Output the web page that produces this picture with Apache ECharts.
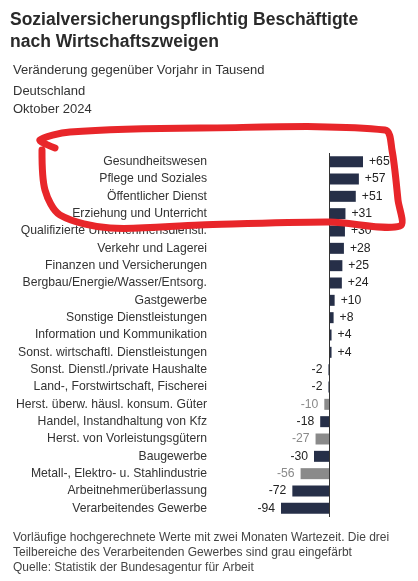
<!DOCTYPE html><html><head><meta charset="utf-8"><script src="https://cdn.jsdelivr.net/npm/echarts@6/dist/echarts.min.js"></script>
<style>html,body{margin:0;padding:0;background:#fff}#c{width:418px;height:581px}</style></head><body><div id="c"></div><script>
const categories=["Gesundheitswesen","Pflege und Soziales","Öffentlicher Dienst","Erziehung und Unterricht","Qualifizierte Unternehmensdienstl.","Verkehr und Lagerei","Finanzen und Versicherungen","Bergbau/Energie/Wasser/Entsorg.","Gastgewerbe","Sonstige Dienstleistungen","Information und Kommunikation","Sonst. wirtschaftl. Dienstleistungen","Sonst. Dienstl./private Haushalte","Land-, Forstwirtschaft, Fischerei","Herst. überw. häusl. konsum. Güter","Handel, Instandhaltung von Kfz","Herst. von Vorleistungsgütern","Baugewerbe","Metall-, Elektro- u. Stahlindustrie","Arbeitnehmerüberlassung","Verarbeitendes Gewerbe"];
const values=[65,57,51,31,30,28,25,24,10,8,4,4,-2,-2,-10,-18,-27,-30,-56,-72,-94];
const greyRows=["Herst. überw. häusl. konsum. Güter","Herst. von Vorleistungsgütern","Metall-, Elektro- u. Stahlindustrie"];
const NAVY='#262f48',GREY='#8a8a8a';
const data=values.map((v,i)=>{const g=greyRows.includes(categories[i]);return{value:v,itemStyle:{color:g?GREY:NAVY},label:{show:true,position:v>=0?'right':'left',color:g?GREY:'#222',formatter:(v>0?'+':'')+v}}});
const ch=echarts.init(document.getElementById('c'));
const F='Liberation Sans, Arial, sans-serif';
ch.setOption({animation:false,
grid:{left:281,right:55,top:153,bottom:64,containLabel:false},
xAxis:{type:'value',min:-94,max:65,show:false},
yAxis:{type:'category',data:categories,inverse:true,axisLine:{show:false,onZero:false},axisTick:{show:false},axisLabel:{margin:74,fontSize:12.2,color:'#333',fontFamily:F}},
series:[{type:'bar',data:data,barWidth:11,label:{fontSize:12.2,fontFamily:F,distance:6},
markLine:{silent:true,symbol:'none',label:{show:false},lineStyle:{color:'#333',width:1,type:'solid'},data:[{xAxis:0}]}}],
graphic:[
{type:'text',left:10,top:9,style:{text:'Sozialversicherungspflichtig Beschäftigte\nnach Wirtschaftszweigen',font:'bold 17.5px '+F,fill:'#2a2a2a',lineHeight:22}},
{type:'text',left:13,top:64,style:{text:'Veränderung gegenüber Vorjahr in Tausend',font:'13px '+F,fill:'#333'}},
{type:'text',left:13,top:85,style:{text:'Deutschland',font:'13px '+F,fill:'#333'}},
{type:'text',left:13,top:103,style:{text:'Oktober 2024',font:'13px '+F,fill:'#333'}},
{type:'text',left:13,top:530,style:{text:'Vorläufige hochgerechnete Werte mit zwei Monaten Wartezeit. Die drei\nTeilbereiche des Verarbeitenden Gewerbes sind grau eingefärbt\nQuelle: Statistik der Bundesagentur für Arbeit',font:'12px '+F,fill:'#444',lineHeight:15}},
{type:'polyline',z:100,shape:{points:[[55,148],[40,140],[70,132],[200,128],[385,130],[392,150],[398,200],[400,226],[330,222],[200,225],[110,228],[60,215],[45,190],[42,150]],smooth:0.3},style:{stroke:'#e8262a',lineWidth:7,fill:null,lineCap:'round',lineJoin:'round'}}
]});
</script></body></html>
